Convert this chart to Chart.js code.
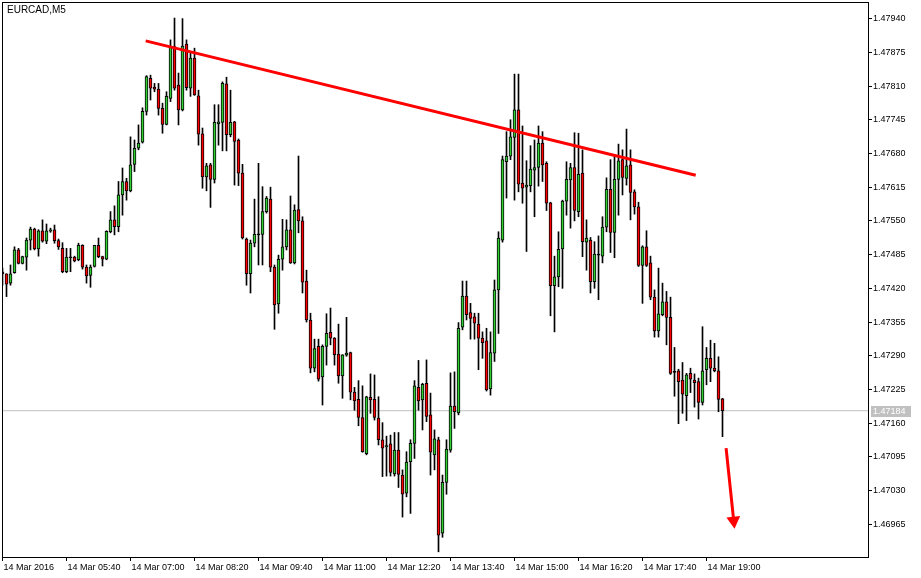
<!DOCTYPE html>
<html>
<head>
<meta charset="utf-8">
<title>EURCAD,M5</title>
<script src="https://cdn.jsdelivr.net/npm/chart.js@4.4.1/dist/chart.umd.min.js"></script>
<style>
  html, body { margin: 0; padding: 0; background: #fff; }
  canvas { display: block; }
</style>
</head>
<body>
<canvas id="chart" width="921" height="578"></canvas>
<script>
/* ------------------------------------------- */
/* DATA -------------------------------------- */
/* ------------------------------------------- */
let symbol = "EURCAD,M5";
let timeLabels = ["14 Mar 2016", "14 Mar 05:40", "14 Mar 07:00", "14 Mar 08:20", "14 Mar 09:40", "14 Mar 11:00",
  "14 Mar 12:20", "14 Mar 13:40", "14 Mar 15:00", "14 Mar 16:20", "14 Mar 17:40", "14 Mar 19:00"];
let barsPerLabel = 16;
let priceTicks = [1.46965, 1.47030, 1.47095, 1.47160, 1.47225, 1.47290, 1.47355, 1.47420,
  1.47485, 1.47550, 1.47615, 1.47680, 1.47745, 1.47810, 1.47875, 1.47940];

let open = [
  1.47452, 1.47448, 1.47430, 1.47450, 1.47494, 1.47468, 1.47480, 1.47513, 1.47534, 1.47496,
  1.47531, 1.47511, 1.47530, 1.47533, 1.47512, 1.47497, 1.47452, 1.47480, 1.47480, 1.47475,
  1.47503, 1.47461, 1.47445, 1.47462, 1.47503, 1.47481, 1.47476, 1.47529, 1.47552, 1.47539,
  1.47600, 1.47626, 1.47608, 1.47659, 1.47690, 1.47702, 1.47761, 1.47825, 1.47808, 1.47804,
  1.47767, 1.47736, 1.47786, 1.47886, 1.47812, 1.47764, 1.47891, 1.47806, 1.47864, 1.47791,
  1.47718, 1.47635, 1.47658, 1.47630, 1.47737, 1.47740, 1.47814, 1.47716, 1.47741, 1.47706,
  1.47642, 1.47515, 1.47448, 1.47507, 1.47524, 1.47524, 1.47568, 1.47592, 1.47461, 1.47390,
  1.47476, 1.47500, 1.47533, 1.47469, 1.47572, 1.47550, 1.47434, 1.47359, 1.47266, 1.47308,
  1.47249, 1.47308, 1.47335, 1.47324, 1.47293, 1.47251, 1.47291, 1.47296, 1.47220, 1.47206,
  1.47171, 1.47101, 1.47210, 1.47206, 1.47170, 1.47128, 1.47114, 1.47120, 1.47062, 1.47108,
  1.47060, 1.47025, 1.47086, 1.47121, 1.47229, 1.47205, 1.47237, 1.47176, 1.47099, 1.47128,
  1.46948, 1.47046, 1.47108, 1.47193, 1.47180, 1.47345, 1.47405, 1.47373, 1.47365, 1.47351,
  1.47324, 1.47319, 1.47226, 1.47295, 1.47417, 1.47513, 1.47664, 1.47675, 1.47711, 1.47764,
  1.47623, 1.47615, 1.47618, 1.47648, 1.47653, 1.47700, 1.47661, 1.47585, 1.47425, 1.47442,
  1.47496, 1.47588, 1.47629, 1.47653, 1.47568, 1.47642, 1.47509, 1.47513, 1.47433, 1.47484,
  1.47482, 1.47538, 1.47611, 1.47528, 1.47630, 1.47668, 1.47632, 1.47658, 1.47606, 1.47577,
  1.47464, 1.47500, 1.47469, 1.47403, 1.47338, 1.47369, 1.47394, 1.47364, 1.47259, 1.47261,
  1.47243, 1.47213, 1.47256, 1.47243, 1.47240, 1.47200, 1.47263, 1.47285, 1.47266, 1.47261,
  1.47207
];
let high = [
  1.47459, 1.47448, 1.47465, 1.47500, 1.47497, 1.47482, 1.47517, 1.47538, 1.47536, 1.47533,
  1.47552, 1.47544, 1.47536, 1.47542, 1.47515, 1.47508, 1.47497, 1.47497, 1.47482, 1.47507,
  1.47504, 1.47465, 1.47465, 1.47503, 1.47517, 1.47482, 1.47531, 1.47568, 1.47579, 1.47626,
  1.47652, 1.47632, 1.47712, 1.47706, 1.47735, 1.47768, 1.47830, 1.47831, 1.47815, 1.47815,
  1.47777, 1.47799, 1.47899, 1.47941, 1.47835, 1.47940, 1.47899, 1.47873, 1.47883, 1.47802,
  1.47729, 1.47661, 1.47661, 1.47774, 1.47774, 1.47818, 1.47827, 1.47802, 1.47742, 1.47708,
  1.47659, 1.47517, 1.47513, 1.47592, 1.47661, 1.47616, 1.47597, 1.47615, 1.47465, 1.47484,
  1.47553, 1.47552, 1.47598, 1.47581, 1.47675, 1.47558, 1.47455, 1.47372, 1.47322, 1.47322,
  1.47311, 1.47371, 1.47382, 1.47325, 1.47351, 1.47292, 1.47364, 1.47297, 1.47229, 1.47242,
  1.47232, 1.47212, 1.47255, 1.47253, 1.47211, 1.47161, 1.47135, 1.47137, 1.47142, 1.47142,
  1.47070, 1.47105, 1.47128, 1.47242, 1.47281, 1.47237, 1.47282, 1.47218, 1.47147, 1.47133,
  1.47060, 1.47128, 1.47257, 1.47259, 1.47354, 1.47434, 1.47434, 1.47391, 1.47372, 1.47372,
  1.47336, 1.47343, 1.47336, 1.47436, 1.47529, 1.47675, 1.47722, 1.47745, 1.47833, 1.47833,
  1.47733, 1.47666, 1.47695, 1.47706, 1.47733, 1.47722, 1.47664, 1.47586, 1.47482, 1.47529,
  1.47590, 1.47664, 1.47661, 1.47720, 1.47719, 1.47687, 1.47552, 1.47518, 1.47510, 1.47521,
  1.47558, 1.47633, 1.47668, 1.47677, 1.47698, 1.47687, 1.47727, 1.47687, 1.47610, 1.47586,
  1.47502, 1.47531, 1.47482, 1.47417, 1.47459, 1.47430, 1.47414, 1.47403, 1.47306, 1.47264,
  1.47277, 1.47256, 1.47266, 1.47255, 1.47247, 1.47346, 1.47306, 1.47320, 1.47314, 1.47288,
  1.47208
];
let low = [
  1.47426, 1.47404, 1.47426, 1.47449, 1.47467, 1.47467, 1.47455, 1.47494, 1.47494, 1.47482,
  1.47509, 1.47506, 1.47528, 1.47507, 1.47495, 1.47450, 1.47450, 1.47452, 1.47471, 1.47473,
  1.47457, 1.47430, 1.47422, 1.47461, 1.47479, 1.47463, 1.47475, 1.47527, 1.47523, 1.47529,
  1.47561, 1.47590, 1.47606, 1.47645, 1.47687, 1.47700, 1.47754, 1.47783, 1.47799, 1.47754,
  1.47719, 1.47735, 1.47780, 1.47802, 1.47735, 1.47762, 1.47802, 1.47790, 1.47792, 1.47696,
  1.47613, 1.47608, 1.47576, 1.47623, 1.47696, 1.47685, 1.47685, 1.47712, 1.47619, 1.47618,
  1.47515, 1.47426, 1.47411, 1.47500, 1.47465, 1.47465, 1.47565, 1.47452, 1.47341, 1.47372,
  1.47455, 1.47494, 1.47468, 1.47467, 1.47527, 1.47411, 1.47355, 1.47257, 1.47259, 1.47241,
  1.47195, 1.47272, 1.47311, 1.47272, 1.47237, 1.47208, 1.47289, 1.47205, 1.47185, 1.47155,
  1.47104, 1.47099, 1.47179, 1.47166, 1.47118, 1.47057, 1.47058, 1.47058, 1.47058, 1.47036,
  1.46979, 1.47018, 1.46986, 1.47092, 1.47185, 1.47147, 1.47163, 1.47060, 1.47070, 1.46912,
  1.46940, 1.47023, 1.47104, 1.47150, 1.47176, 1.47340, 1.47359, 1.47322, 1.47322, 1.47263,
  1.47285, 1.47222, 1.47214, 1.47279, 1.47333, 1.47509, 1.47594, 1.47668, 1.47590, 1.47606,
  1.47584, 1.47491, 1.47606, 1.47558, 1.47617, 1.47626, 1.47570, 1.47367, 1.47336, 1.47423,
  1.47420, 1.47561, 1.47536, 1.47550, 1.47558, 1.47481, 1.47455, 1.47411, 1.47420, 1.47398,
  1.47469, 1.47529, 1.47489, 1.47479, 1.47561, 1.47600, 1.47619, 1.47552, 1.47563, 1.47462,
  1.47391, 1.47462, 1.47398, 1.47326, 1.47326, 1.47367, 1.47311, 1.47254, 1.47212, 1.47159,
  1.47179, 1.47165, 1.47219, 1.47191, 1.47168, 1.47195, 1.47234, 1.47240, 1.47259, 1.47182,
  1.47134
];
let close = [
  1.47448, 1.47428, 1.47448, 1.47494, 1.47468, 1.47481, 1.47513, 1.47534, 1.47496, 1.47531,
  1.47511, 1.47531, 1.47533, 1.47512, 1.47500, 1.47452, 1.47480, 1.47479, 1.47473, 1.47503,
  1.47461, 1.47444, 1.47461, 1.47503, 1.47481, 1.47476, 1.47530, 1.47552, 1.47539, 1.47600,
  1.47626, 1.47608, 1.47658, 1.47690, 1.47700, 1.47761, 1.47828, 1.47806, 1.47804, 1.47767,
  1.47736, 1.47790, 1.47886, 1.47806, 1.47764, 1.47887, 1.47807, 1.47864, 1.47793, 1.47717,
  1.47635, 1.47656, 1.47630, 1.47740, 1.47741, 1.47815, 1.47716, 1.47740, 1.47703, 1.47642,
  1.47517, 1.47448, 1.47507, 1.47524, 1.47523, 1.47568, 1.47594, 1.47461, 1.47388, 1.47476,
  1.47500, 1.47533, 1.47469, 1.47571, 1.47550, 1.47432, 1.47359, 1.47266, 1.47304, 1.47245,
  1.47308, 1.47333, 1.47324, 1.47292, 1.47251, 1.47292, 1.47295, 1.47220, 1.47203, 1.47171,
  1.47105, 1.47211, 1.47205, 1.47171, 1.47128, 1.47112, 1.47117, 1.47065, 1.47108, 1.47061,
  1.47023, 1.47085, 1.47121, 1.47232, 1.47203, 1.47235, 1.47173, 1.47104, 1.47130, 1.46944,
  1.47046, 1.47110, 1.47193, 1.47182, 1.47343, 1.47405, 1.47369, 1.47362, 1.47353, 1.47324,
  1.47315, 1.47224, 1.47296, 1.47417, 1.47517, 1.47668, 1.47675, 1.47712, 1.47764, 1.47621,
  1.47613, 1.47619, 1.47650, 1.47653, 1.47700, 1.47658, 1.47584, 1.47425, 1.47442, 1.47495,
  1.47588, 1.47630, 1.47653, 1.47570, 1.47640, 1.47510, 1.47517, 1.47433, 1.47486, 1.47485,
  1.47538, 1.47611, 1.47528, 1.47630, 1.47666, 1.47634, 1.47656, 1.47605, 1.47577, 1.47464,
  1.47500, 1.47464, 1.47403, 1.47338, 1.47371, 1.47394, 1.47364, 1.47256, 1.47258, 1.47240,
  1.47216, 1.47253, 1.47245, 1.47238, 1.47200, 1.47261, 1.47285, 1.47266, 1.47261, 1.47206,
  1.47184
];

/* hand drawn objects on the chart (bar number, price) */
let trendLine = [{x: 35.8, y: 1.47897}, {x: 173.3, y: 1.47638}];
let arrowLine = [{x: 180.9, y: 1.47112}, {x: 182.8, y: 1.46972}];
let lastPrice = close[close.length - 1];

/* ------------------------------------------- */
/* CANDLES ----------------------------------- */
/* ------------------------------------------- */
let bullColor = '#32cd32';
let bearColor = '#ff0000';
let xMin = -0.125;
let xMax = 216.375;

let bodies = [];
let wicks = [];
let bodyColors = [];
for (let i = 0; i < open.length; i++) {
  bodies.push({x: i, y: [open[i], close[i]]});
  wicks.push({x: i, y: [low[i], high[i]]});
  let diff = close[i] - open[i];
  if (Math.abs(diff) < 0.000025) {
    bodyColors.push('#000000');
  } else {
    bodyColors.push(diff > 0 ? bullColor : bearColor);
  }
}

let axisFont = {family: 'Liberation Sans', size: 9};

/* frame, symbol name and last price tag */
let extras = {
  id: 'extras',
  afterDraw(chart) {
    let a = chart.chartArea;
    let ctx = chart.ctx;
    ctx.save();
    ctx.strokeStyle = '#000';
    ctx.lineWidth = 1;
    ctx.strokeRect(a.left + 0.5, a.top + 0.5, a.right - a.left, a.bottom - a.top);

    ctx.fillStyle = '#000';
    ctx.font = '10px "Liberation Sans"';
    ctx.textBaseline = 'top';
    ctx.fillText(symbol, a.left + 5, a.top + 3);

    let y = Math.round(chart.scales.y.getPixelForValue(lastPrice));
    ctx.fillStyle = '#c0c0c0';
    ctx.fillRect(a.right + 3, y - 5, 40, 11);
    ctx.fillStyle = '#fff';
    ctx.font = '9px "Liberation Sans"';
    ctx.textBaseline = 'middle';
    ctx.fillText(lastPrice.toFixed(5), a.right + 5, y + 0.5);
    ctx.restore();
  }
};

let ctx = document.getElementById('chart').getContext('2d');
let chart = new Chart(ctx, {
  type: 'bar',
  data: {
    datasets: [
      {
        type: 'line',
        data: trendLine,
        borderColor: '#ff0000',
        borderWidth: 3,
        pointRadius: 0,
        order: 0
      },
      {
        type: 'line',
        data: arrowLine,
        borderColor: '#ff0000',
        backgroundColor: '#ff0000',
        borderWidth: 3,
        pointStyle: 'triangle',
        pointRadius: [0, 8],
        pointRotation: 174,
        pointBorderWidth: 0,
        order: 0
      },
      {
        type: 'bar',
        data: bodies,
        backgroundColor: bodyColors,
        borderColor: '#000',
        borderWidth: 1,
        borderSkipped: false,
        grouped: false,
        categoryPercentage: 1,
        barPercentage: 1,
        maxBarThickness: 3,
        minBarLength: 1,
        order: 1
      },
      {
        type: 'bar',
        data: wicks,
        backgroundColor: '#000',
        borderWidth: 0,
        grouped: false,
        categoryPercentage: 1,
        barPercentage: 1,
        maxBarThickness: 1,
        order: 2
      },
      {
        type: 'line',
        data: [{x: xMin, y: lastPrice}, {x: xMax, y: lastPrice}],
        borderColor: '#c0c0c0',
        borderWidth: 1,
        pointRadius: 0,
        order: 3
      }
    ]
  },
  options: {
    responsive: false,
    animation: false,
    devicePixelRatio: 1,
    events: [],
    layout: {autoPadding: false, padding: {left: 2, top: 2, right: 0, bottom: 0}},
    plugins: {
      legend: {display: false},
      tooltip: {enabled: false}
    },
    scales: {
      x: {
        type: 'linear',
        min: xMin,
        max: xMax,
        bounds: 'data',
        offset: false,
        afterBuildTicks: (s) => {
          s.ticks = timeLabels.map((t, k) => ({value: k * barsPerLabel}));
        },
        afterFit: (s) => {
          s.height = 21;
          s.paddingLeft = 0;
          s.paddingRight = 0;
        },
        grid: {offset: false, drawOnChartArea: false, tickLength: 4, color: '#000'},
        border: {display: true, color: '#000'},
        ticks: {
          callback: (v, k) => timeLabels[k],
          align: 'start',
          labelOffset: 1,
          maxRotation: 0,
          autoSkip: false,
          padding: 1,
          color: '#000',
          font: axisFont
        }
      },
      y: {
        type: 'linear',
        position: 'right',
        min: 1.46902,
        max: 1.47972,
        bounds: 'data',
        afterBuildTicks: (s) => {
          s.ticks = priceTicks.map(v => ({value: v}));
        },
        afterFit: (s) => {
          s.width = 53;
          s.paddingTop = 0;
          s.paddingBottom = 0;
        },
        grid: {drawOnChartArea: false, tickLength: 4, color: '#000'},
        border: {display: true, color: '#000'},
        ticks: {
          callback: (v) => v.toFixed(5),
          autoSkip: false,
          padding: 1,
          color: '#000',
          font: axisFont
        }
      }
    }
  },
  plugins: [extras]
});
</script>
</body>
</html>
